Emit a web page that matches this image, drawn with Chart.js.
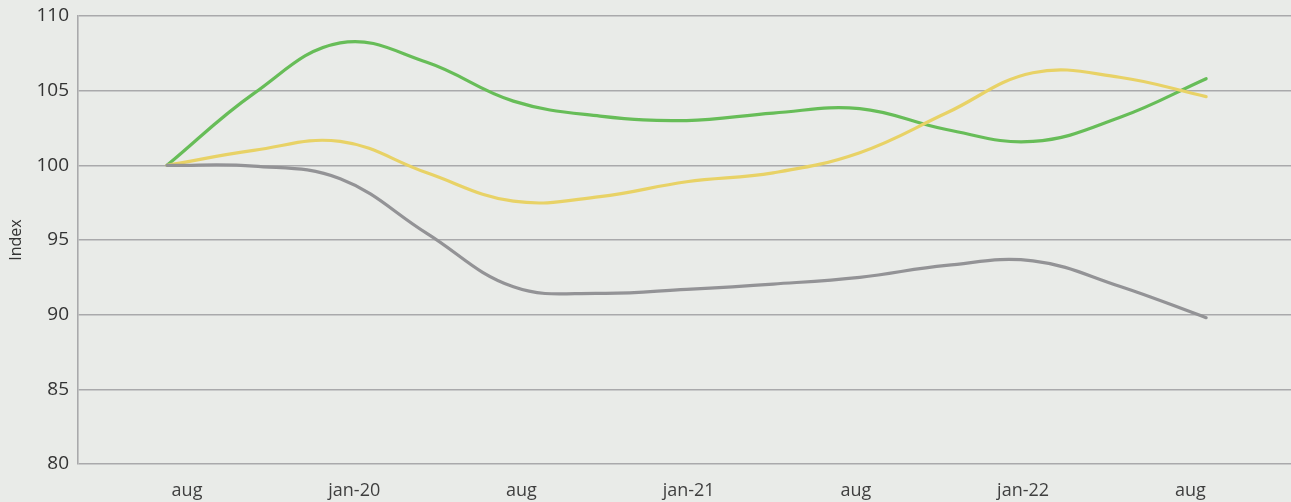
<!DOCTYPE html>
<html>
<head>
<meta charset="utf-8">
<script src="https://cdn.jsdelivr.net/npm/chart.js@4"></script>
<style>
  html, body { margin: 0; padding: 0; background: #e9ebe8; }
  #wrap { width: 1291px; height: 502px; position: relative; }
</style>
</head>
<body>
<div id="wrap"><canvas id="c"></canvas></div>
<script>
// Quarterly observations, aug 2019 .. aug 2022 (index, aug 2019 = 100)
const periods = [0, 1, 2, 3, 4, 5, 6, 7, 8, 9, 10, 11, 12];
const greenSeries  = [100, 104.8, 108.2, 106.9, 104.3, 103.3, 103.0, 103.5, 103.8, 102.4, 101.6, 103.2, 105.8];
const yellowSeries = [100, 101.0, 101.6, 99.5, 97.6, 97.9, 98.9, 99.5, 100.85, 103.5, 106.2, 105.9, 104.6];
const graySeries   = [100, 99.95, 99.1, 95.45, 91.87, 91.43, 91.7, 92.05, 92.5, 93.3, 93.6, 91.9, 89.8];
const tickLabels = ['aug', 'jan-20', 'aug', 'jan-21', 'aug', 'jan-22', 'aug'];
const yTicks = [80, 85, 90, 95, 100, 105, 110];

const toPts = arr => arr.map((v, i) => ({ x: periods[i], y: v }));

const gridColor = '#a9a9ab';
const labelStart = 0.231, labelStep = 1.931;

new Chart(document.getElementById('c'), {
  type: 'line',
  data: {
    datasets: [
      { label: 'Grey', data: toPts(graySeries), borderColor: '#939396', borderWidth: 3.2 },
      { label: 'Yellow', data: toPts(yellowSeries), borderColor: '#e8d266', borderWidth: 3.2 },
      { label: 'Green', data: toPts(greenSeries), borderColor: '#67bd58', borderWidth: 3.2 }
    ]
  },
  options: {
    responsive: true,
    maintainAspectRatio: false,
    animation: false,
    layout: { padding: { top: 0, right: 0, left: 0, bottom: 0 } },
    elements: {
      point: { radius: 0, hoverRadius: 0 },
      line: { tension: 0.4, cubicInterpolationMode: 'default', borderCapStyle: 'round', fill: false }
    },
    plugins: { legend: { display: false }, tooltip: { enabled: false } },
    scales: {
      x: {
        type: 'linear',
        min: -1.028,
        max: 12.98,
        grid: { display: false },
        border: { display: false },
        afterBuildTicks: s => { s.ticks = tickLabels.map((_, i) => ({ value: labelStart + labelStep * i })); },
        afterFit: s => { s.height = 38; },
        ticks: {
          autoSkip: false,
          maxRotation: 0,
          padding: 8,
          color: '#3f3f3f',
          font: { family: 'Open Sans', size: 18 },
          callback: (v, i) => tickLabels[i]
        }
      },
      y: {
        min: 80,
        max: 110,
        afterBuildTicks: s => { s.ticks = yTicks.map(v => ({ value: v })); },
        afterFit: s => { s.width = 78; s.paddingTop = 16; },
        grid: { color: gridColor, lineWidth: 1.6, drawTicks: false },
        border: { display: true, color: gridColor, width: 1.6 },
        ticks: {
          padding: 9,
          color: '#333333',
          font: { family: 'Open Sans', size: 19, lineHeight: 1.0 }
        },
        title: {
          display: true,
          text: 'Index',
          color: '#333333',
          font: { family: 'Open Sans', size: 16 },
          padding: { top: 7, bottom: 0 }
        }
      }
    }
  }
});
</script>
</body>
</html>
